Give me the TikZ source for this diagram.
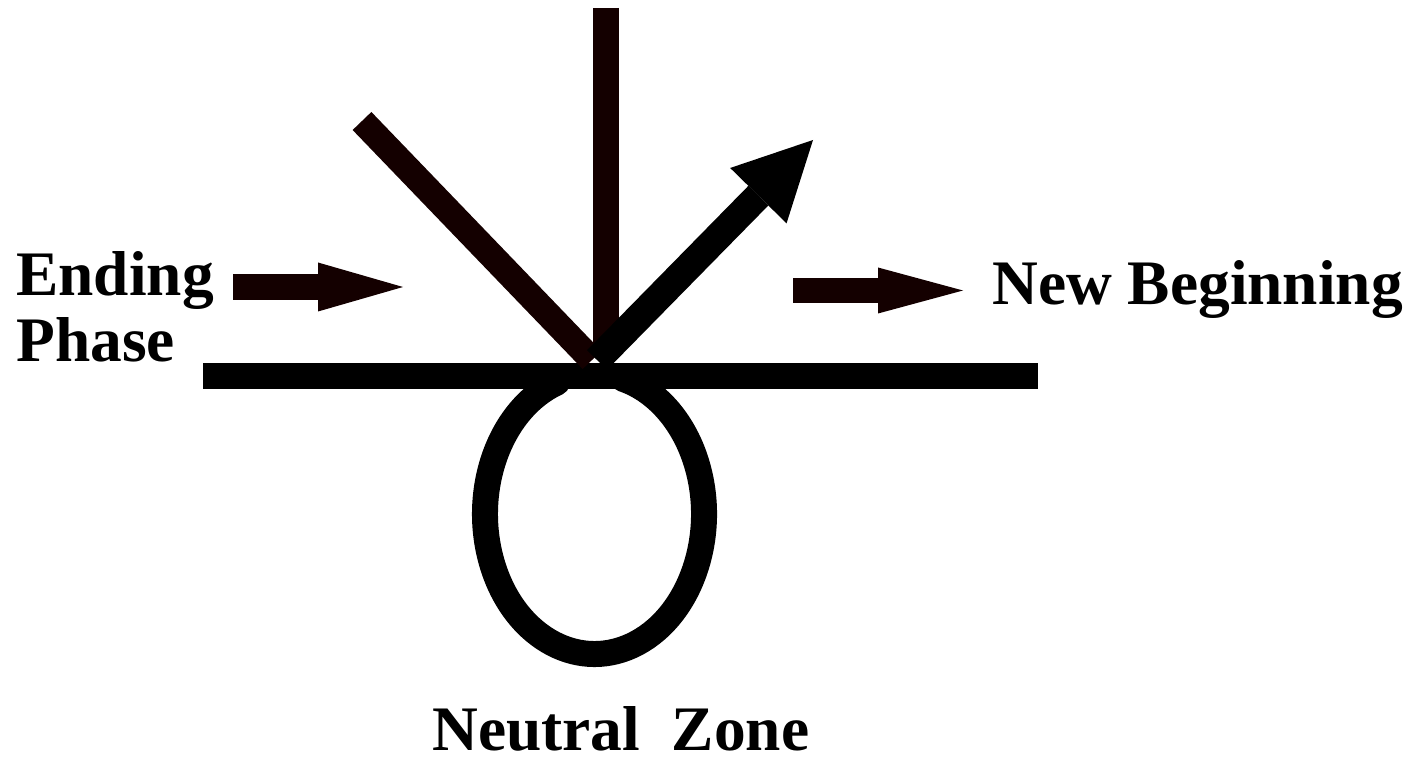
\documentclass[tikz,border=0pt]{standalone}
\usepackage{fontspec}
\setmainfont{Liberation Serif}
\usetikzlibrary{arrows.meta,calc}
\definecolor{darkbrown}{RGB}{20,0,0}
\begin{document}
\begin{tikzpicture}[x=0.5pt,y=-0.5pt,
  thickbar/.style={line width=13pt},
  brownbar/.style={thickbar,draw=darkbrown},
  blackbar/.style={thickbar,draw=black},
  flatarrow/.style={brownbar,-{Triangle[length=42.5pt,width=24.5pt,line width=0pt]},darkbrown},
  lbl/.style={font=\fontsize{31.7pt}{38pt}\selectfont\bfseries,inner sep=0pt,anchor=base west}]
\useasboundingbox (0,0) rectangle (1416,758);
% coordinates
\coordinate (hl) at (203,376);
\coordinate (hr) at (1038,376);
\coordinate (dtop) at (362,121);
\coordinate (dbot) at (592,360);
\coordinate (vtop) at (605.5,8);
\coordinate (vbot) at (605.5,345);
\coordinate (astart) at (597,360);
\coordinate (atip) at (813,140);
\coordinate (lstart) at (233,287);
\coordinate (ltip) at (403,287);
\coordinate (rstart) at (793,290.5);
\coordinate (rtip) at (963,290.5);
\coordinate (loopc) at (594.5,514);
% loop
\draw[blackbar,line cap=round] ($(loopc)+(250:109.5 and 140)$) arc[start angle=250,end angle=-75,x radius=109.5,y radius=140];
% horizontal line
\draw[blackbar] (hl) -- (hr);
% left diagonal and vertical
\draw[brownbar] (dtop) -- (dbot);
\draw[brownbar] (vtop) -- (vbot);
% black arrow
\draw[line width=14pt,-{Triangle[length=39pt,width=39.5pt,line width=0pt]}] (astart) -- (atip);
% horizontal arrows
\draw[flatarrow] (lstart) -- (ltip);
\draw[flatarrow,line width=12.5pt,-{Triangle[length=42.5pt,width=23pt,line width=0pt]}] (rstart) -- (rtip);
% labels
\node[lbl] (ending) at (16,296) {Ending};
\node[lbl] (phase) at (16,362) {Phase};
\node[lbl] (newb) at (992,305) {New Beginning};
\node[lbl] (neutral) at (432,750) {Neutral\ \ Zone};
\end{tikzpicture}
\end{document}
